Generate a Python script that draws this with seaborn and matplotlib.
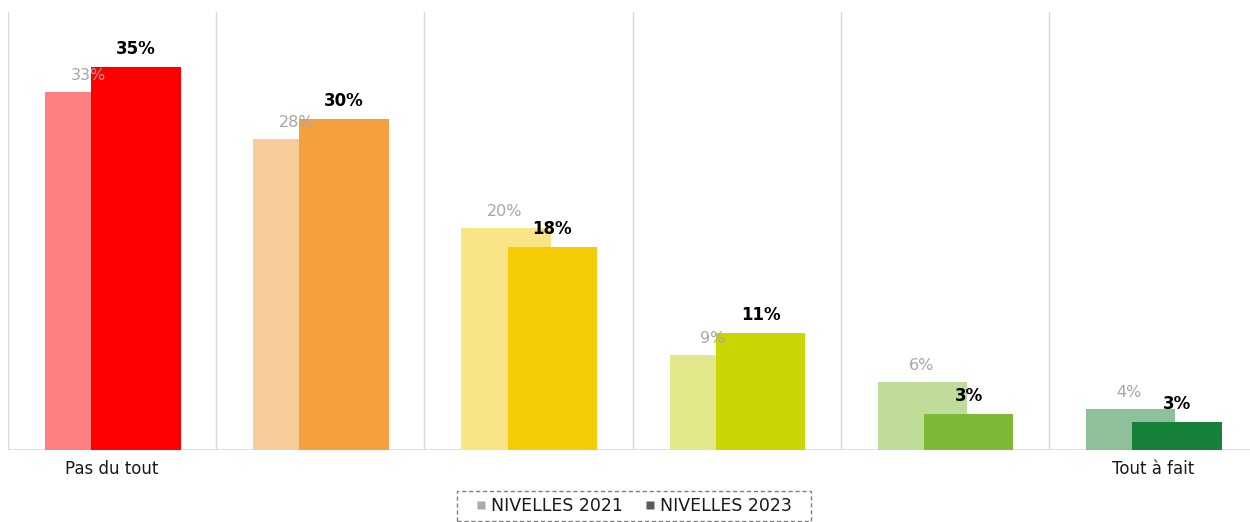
import numpy as np
import matplotlib
matplotlib.use("Agg")
import matplotlib.pyplot as plt
from matplotlib.lines import Line2D
from matplotlib.patches import Rectangle
import seaborn as sns

# -----------------------------
# Data
# -----------------------------
tick_labels = ["Pas du tout", "", "", "", "", "Tout à fait"]
nivelles_2021 = [32.7, 28.4, 20.3, 8.7, 6.2, 3.7]
nivelles_2023 = [35.0, 30.2, 18.5, 10.7, 3.3, 2.6]
colors_2021 = ["#FF8080", "#F8CC9A", "#F9E487", "#E3E88A", "#BFDC9B", "#8FC09C"]
colors_2023 = ["#FF0000", "#F4A03E", "#F5CC05", "#C9D603", "#7CB934", "#178038"]

sns.set_style("white")
plt.rcParams["font.family"] = ["DejaVu Sans"]

fig = plt.figure(figsize=(12.5, 5.22), dpi=100)
ax = fig.add_axes([8 / 1250, 72 / 522, 1249 / 1250, 438 / 522])

pos = np.arange(len(tick_labels))
off_21, off_23, w = -0.107, 0.115, 0.43

sns.barplot(x=pos + off_21, y=nivelles_2021, native_scale=True, width=w,
            color="#cccccc", ax=ax, zorder=2)
n0 = len(ax.patches)
sns.barplot(x=pos + off_23, y=nivelles_2023, native_scale=True, width=w,
            color="#cccccc", ax=ax, zorder=3)

for p, c in zip(ax.patches[:n0], colors_2021):
    p.set_facecolor(c)
    p.set_edgecolor("none")
    p.set_zorder(2)
for p, c in zip(ax.patches[n0:], colors_2023):
    p.set_facecolor(c)
    p.set_edgecolor("none")
    p.set_zorder(3)

# value labels
for x, v in zip(pos + off_21, nivelles_2021):
    ax.annotate(f"{v:.0f}%", (x, v), xytext=(-1, 6.5), textcoords="offset points",
                ha="center", va="bottom", fontsize=11.5, color="#A6A6A6", zorder=4)
for x, v in zip(pos + off_23, nivelles_2023):
    ax.annotate(f"{v:.0f}%", (x, v), xytext=(0, 6.5), textcoords="offset points",
                ha="center", va="bottom", fontsize=12, fontweight="bold",
                color="black", zorder=5)

ax.set_xlim(-0.5, len(tick_labels) - 0.5)
ax.set_ylim(0, 40)

# category separators
for b in np.arange(-0.5, len(tick_labels), 1.0):
    ax.axvline(b, color="#D9D9D9", lw=1, zorder=1)
ax.axhline(0, color="#D9D9D9", lw=1.2, zorder=1)

ax.set_xticks(pos)
ax.set_xticklabels(tick_labels, fontsize=12, color="#1a1a1a")
ax.tick_params(axis="x", length=0, pad=7)
ax.set_yticks([])
ax.set_xlabel("")
ax.set_ylabel("")
for s in ax.spines.values():
    s.set_visible(False)

handles = [
    Line2D([], [], marker="s", linestyle="none", markersize=6,
           markerfacecolor="#ABABAB", markeredgecolor="none"),
    Line2D([], [], marker="s", linestyle="none", markersize=6,
           markerfacecolor="#595959", markeredgecolor="none"),
]
leg = fig.legend(handles, ["NIVELLES 2021", "NIVELLES 2023"], loc="center",
                 bbox_to_anchor=(0.507, 0.031), ncol=2, fontsize=12.5,
                 frameon=False, handlelength=0.6,
                 handletextpad=0.25, columnspacing=1.3, borderpad=0.3)
for t in leg.get_texts():
    t.set_color("#1a1a1a")

# dashed frame around legend, with wider side padding
fig.canvas.draw()
bb = leg.get_window_extent()
padx, pady = 14, 1
rect = Rectangle(((bb.x0 - padx) / 1250, (bb.y0 - pady) / 522),
                 (bb.width + 2 * padx) / 1250, (bb.height + 2 * pady) / 522,
                 transform=fig.transFigure, fill=False, edgecolor="#7F7F7F",
                 linewidth=1, linestyle=(0, (3, 2)))
fig.patches.append(rect)

fig.savefig("out.png", dpi=100)
plt.close(fig)
